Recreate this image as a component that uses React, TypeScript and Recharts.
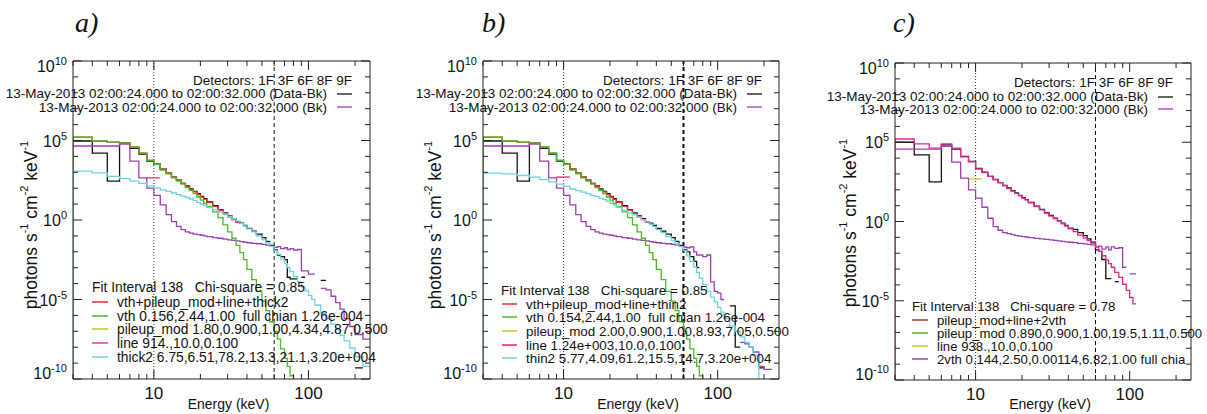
import React from "react";
import { ComposedChart, Line, XAxis, YAxis, ReferenceLine } from "recharts";

const FONT = '"Liberation Sans", Arial, Helvetica, sans-serif';

// energy bin edges (keV), shared by every spectrum
const EDGES = [3, 4, 5, 6, 7, 8, 9, 10, 11, 12, 13, 14, 15, 16, 17, 18, 19, 20, 21, 22, 24, 26, 28, 30, 32, 34, 36, 38, 40, 43, 46, 50, 53, 56, 60, 63, 66, 70, 73, 76, 80, 85, 90, 95, 100, 105, 110, 120, 130, 140, 150, 160, 170, 185, 200, 225, 250];

const X_TICKS = [3, 4, 5, 6, 7, 8, 9, 10, 20, 30, 40, 50, 60, 70, 80, 90, 100, 200];
const X_LABELED = [10, 100];
const Y_TICKS = [1e-10, 1e-9, 1e-8, 1e-7, 1e-6, 1e-5, 1e-4, 1e-3, 1e-2, 1e-1, 1, 1e1, 1e2, 1e3, 1e4, 1e5, 1e6, 1e7, 1e8, 1e9, 1e10];
const E_DOTTED = 10;
const E_DASHED = 60;

// photons s-1 cm-2 keV-1 per bin, panel a
const A_DATA_BK = [9.3e4, 1.6e4, 2.8e2, 6.9e4, 3.2e4, 1.4e4, 5e3, 3.2e3, 1.6e3, 8.9e2, 5e2, 3.2e2, 2e2, 1.4e2, 89, 63, 45, 30, 22, 14, 7.9, 4.5, 2.8, 1.8, 1.2, 0.79, 0.63, 0.45, 0.3, 0.2, 0.13, 7.9e-2, 4.5e-2, 2.5e-2, 1.3e-2, 6.3e-3, 5e-3, 3.2e-3, 2.5e-4, 2e-4, 2e-4, null, 2.5e-4, null, null, null, null, 1.6e-4, null, null, null, null, null, null, 5e-10];
const A_BK = [4.5e4, 4.5e4, 4.5e4, 6e4, 5e3, 4.5e2, 1e2, 35, 8.9, 2.2, 0.79, 0.4, 0.25, 0.18, 0.15, 0.13, 0.12, 0.11, 0.1, 8.9e-2, 7.9e-2, 7.1e-2, 6.3e-2, 5.6e-2, 5.2e-2, 4.8e-2, 4.4e-2, 4e-2, 3.7e-2, 3.4e-2, 3.2e-2, 2.9e-2, 2.6e-2, 2.2e-2, 1.9e-2, 2.1e-2, 1.6e-2, 1.8e-2, 1.4e-2, 1.6e-2, 1.3e-2, 1.4e-2, 6.3e-4, 6.3e-4, 4e-4, 4e-4, null, 5e-5, 4e-5, 1.6e-5, 6.3e-6, 2.5e-6, 6.3e-7, 2e-7, 6.3e-8, 3.2e-8];
const A_TOTAL = [1.6e5, 9.3e4, 7.9e4, 6.9e4, 4e4, 1.6e4, 5.6e3, 3.5e3, 1.6e3, 8.9e2, 5e2, 3.2e2, 2e2, 1.3e2, 83, 58, 40, 28, 20, 13, 7.1, 4.2, 2.6, 1.6, 1.05, 0.71];
const A_VTH = [1.6e5, 9.3e4, 7.9e4, 6.9e4, 4e4, 1.6e4, 5.6e3, 3.2e3, 1.4e3, 7.9e2, 4.5e2, 2.8e2, 1.8e2, 1.1e2, 71, 45, 28, 18, 11, 6.8, 3.2, 1.4, 0.5, 0.18, 7.1e-2, 2.5e-2, 8.9e-3, 3.2e-3, 7.9e-4, 1.8e-4, 3.2e-5, 7.9e-6, 2e-6, 4e-7, 1e-7, 3.2e-8, 7.9e-9, 2e-9, 6.3e-10, 1.6e-10, 2.5e-11];
const A_LINE = [null, null, null, null, null, null, 4.5e2, 4.5e2];
const A_THICK2 = [1.2e3, 9.1e2, 5.6e2, 4e2, 2.8e2, 2e2, 1.4e2, 1e2, 79, 63, 50, 40, 32, 26, 21, 17, 13, 10, 8.3, 6, 4.5, 3.3, 2.3, 1.7, 1.2, 0.85, 0.6, 0.43, 0.28, 0.18, 0.1, 5.9e-2, 3.8e-2, 2.2e-2, 1.2e-2, 6.8e-3, 3.5e-3, 1.8e-3, 1e-3, 5.6e-4, 2.8e-4, 1.3e-4, 6.3e-5, 3.5e-5, 1.8e-5, 1e-5, 4.5e-6, 1.4e-6, 6.3e-7, 2.8e-7, 1.3e-7, 5.6e-8, 2.5e-8, 8.9e-9, 2.5e-9, 6.3e-10];

// panel b
const B_DATA_BK = [9.3e4, 1.6e4, 2.8e2, 6.9e4, 3.2e4, 1.4e4, 5e3, 3.2e3, 1.6e3, 8.9e2, 5e2, 3.2e2, 2e2, 1.4e2, 89, 63, 45, 30, 22, 14, 7.9, 4.5, 2.8, 1.8, 1.2, 0.79, 0.63, 0.45, 0.3, 0.2, 0.13, 7.9e-2, 4.5e-2, 2.5e-2, 1.3e-2, 1e-2, 5e-3, 2.5e-3, 1e-3, null, null, null, null, null, null, null, null, 4e-6, 1e-8, null, null, null, null, 5e-10];
const B_BK = [4.5e4, 4.5e4, 4.5e4, 6e4, 5e3, 4.5e2, 1e2, 35, 8.9, 2.2, 0.79, 0.4, 0.25, 0.18, 0.15, 0.13, 0.12, 0.11, 0.1, 8.9e-2, 7.9e-2, 7.1e-2, 6.3e-2, 5.6e-2, 5.2e-2, 4.8e-2, 4.4e-2, 4e-2, 3.7e-2, 3.4e-2, 3.2e-2, 2.9e-2, 2.6e-2, 2.2e-2, 2e-2, 1.8e-2, 2e-2, 1e-2, 6.3e-3, 6.3e-3, 5e-3, 6.3e-3, 1.3e-4, 3.2e-5, 2.5e-5, 1e-5, null, null, null, 2e-8, 1.6e-8, 1e-8, 5e-9, 6.3e-10, 4e-10];
const B_TOTAL = [1.6e5, 9.3e4, 7.9e4, 6.9e4, 4e4, 1.6e4, 5.6e3, 3.5e3, 1.6e3, 8.9e2, 5e2, 3.2e2, 2e2, 1.3e2, 83, 58, 40, 28, 20, 13, 7.1, 4.2, 2.6, 1.6, 1.05, 0.71];
const B_VTH = [1.6e5, 9.3e4, 7.9e4, 6.9e4, 4e4, 1.6e4, 5.6e3, 3.2e3, 1.4e3, 7.9e2, 4.5e2, 2.8e2, 1.8e2, 1.1e2, 71, 45, 28, 18, 11, 6.8, 3.2, 1.4, 0.5, 0.18, 7.1e-2, 2.5e-2, 8.9e-3, 3.2e-3, 7.9e-4, 1.8e-4, 3.2e-5, 7.9e-6, 2e-6, 4e-7, 1e-7, 3.2e-8, 7.9e-9, 2e-9, 6.3e-10, 1.6e-10, 2.5e-11];
const B_LINE = [null, null, null, null, null, null, 5e2, 5e2];
const B_THIN2 = [8.9e2, 7.9e2, 6.3e2, 5e2, 3.5e2, 2.5e2, 1.8e2, 1.3e2, 89, 71, 56, 45, 35, 30, 23, 19, 15, 11, 8.9, 6.3, 4, 2.8, 2.1, 1.5, 1.07, 0.76, 0.54, 0.38, 0.25, 0.16, 8.9e-2, 5.2e-2, 3.3e-2, 2.1e-2, 1.2e-2, 5.6e-3, 2.5e-3, 1.1e-3, 5e-4, 2.2e-4, 8.9e-5, 3.2e-5, 1.4e-5, 7.1e-6, 3.2e-6, 1.6e-6, 6.3e-7, 2.2e-7, 1e-7, 4.5e-8, 2e-8, 1e-8, 3.2e-9, 1e-11];

// panel c
const C_DATA_BK = [1e5, 1.6e4, 3.2e2, 6.8e4, 3.7e4, 1.3e4, 6.3e3, 2.2e3, 1.3e3, 7.1e2, 4.5e2, 2.8e2, 1.9e2, 1.3e2, 89, 63, 45, 32, 24, 16, 9.3, 5.8, 3.6, 2.4, 1.6, 1.1, 0.78, 0.56, 0.38, 0.32, 0.2, 0.13, 7.9e-2, 5e-2, 1.6e-2, 1.3e-2, 4e-3, 2.5e-4, 2.5e-4, null, 1.6e-4];
const C_BK = [3.7e4, 3.7e4, 3.7e4, 5.6e4, 5.6e3, 5.5e2, 1e2, 30, 7.9, 1.6, 0.47, 0.28, 0.2, 0.17, 0.15, 0.13, 0.12, 0.11, 0.105, 9.5e-2, 8.7e-2, 7.9e-2, 7.4e-2, 6.9e-2, 6.5e-2, 6e-2, 5.6e-2, 5.2e-2, 4.9e-2, 4.6e-2, 4.2e-2, 3.9e-2, 3.6e-2, 3.4e-2, 2.5e-2, 2.8e-2, 1.8e-2, 2.5e-2, 1.6e-2, 2.5e-2, 2e-2, 2.2e-2, 1.3e-3, null, 5e-4, 5e-4];
const C_2VTH = [1.6e5, 7.8e4, 4.3e4, 7.8e4, 4.3e4, 1.2e4, 5.8e3, 2.1e3, 1.2e3, 7.1e2, 4.3e2, 2.8e2, 1.8e2, 1.2e2, 83, 59, 42, 30, 23, 15, 8.7, 5.4, 3.4, 2.2, 1.5, 1.05, 0.72, 0.52, 0.35, 0.23, 0.14, 8.9e-2, 6.3e-2, 4.3e-2, 2.5e-2, 1.3e-2, 6.9e-3, 3.7e-3, 2.2e-3, 1.3e-3, 6.2e-4, 3e-4, 1.1e-4, 4.5e-5, 1.6e-5, 6.3e-6];
const C_LINE = [null, null, null, null, null, null, 4.8e2, 4.8e2];

const DETECTORS = "Detectors: 1F 3F 6F 8F 9F";
const TIME_DATA = "13-May-2013 02:00:24.000 to 02:00:32.000 (Data-Bk)";
const TIME_BK = "13-May-2013 02:00:24.000 to 02:00:32.000 (Bk)";

const A_FIT = "Fit Interval 138   Chi-square = 0.85";
const A_COMPONENTS = [
  "vth+pileup_mod+line+thick2",
  "vth 0.156,2.44,1.00  full chian 1.26e-004",
  "pileup_mod 1.80,0.900,1.00,4.34,4.87,0.500",
  "line 914.,10.0,0.100",
  "thick2 6.75,6.51,78.2,13.3,21.1,3.20e+004",
];
const B_FIT = "Fit Interval 138   Chi-square = 0.85";
const B_COMPONENTS = [
  "vth+pileup_mod+line+thin2",
  "vth 0.154,2.44,1.00  full chian 1.26e-004",
  "pileup_mod 2.00,0.900,1.00,8.93,7.05,0.500",
  "line 1.24e+003,10.0,0.100",
  "thin2 5.77,4.09,61.2,15.5,14.7,3.20e+004",
];
const C_FIT = "Fit Interval 138   Chi-square = 0.78";
const C_COMPONENTS = [
  "pileup_mod+line+2vth",
  "pileup_mod 0.890,0.900,1.00,19.5,1.11,0.500",
  "line 938.,10.0,0.100",
  "2vth 0.144,2.50,0.00114,6.82,1.00 full chia",
];

const BLACK = "#111111";
const PURPLE = "#9c3fb2";
const RED = "#ee2b2b";
const GREEN = "#4cb82a";
const YELLOW = "#c8c81e";
const MAGENTA = "#e8349a";
const CRIMSON = "#e2206e";
const CYAN = "#6fd3dc";
const PINK = "#e6288c";
const DARKRED = "#a33a3a";
const VIOLET = "#a83cb4";

type Val = number | null;
type Trace = { values: Val[]; color: string; fromFloor?: boolean };

// turn per-bin values into a stepped outline (nulls break the line)
function steps(values: Val[], fromFloor = false) {
  const pts: { e: number; v: Val }[] = [];
  if (fromFloor) pts.push({ e: EDGES[0], v: 1e-12 });
  values.forEach((v, i) => {
    if (v == null) {
      pts.push({ e: EDGES[i], v: null });
      return;
    }
    pts.push({ e: EDGES[i], v }, { e: EDGES[i + 1], v });
  });
  return pts;
}

const logExp = (v: number) => Math.round(Math.log10(v));

function BottomTick({ x, y, payload }: any) {
  const major = X_LABELED.includes(payload.value);
  return (
    <g>
      <line x1={x} x2={x} y1={y} y2={y - (major ? 9 : 5)} stroke="#222" />
      {major && (
        <text x={x} y={y + 20} textAnchor="middle" fontSize={17} fontFamily={FONT} fill="#111">
          {payload.value}
        </text>
      )}
    </g>
  );
}

function TopTick({ x, y, payload }: any) {
  const major = X_LABELED.includes(payload.value);
  return <line x1={x} x2={x} y1={y} y2={y + (major ? 9 : 5)} stroke="#222" />;
}

function LeftTick({ x, y, payload }: any) {
  const ex = logExp(payload.value);
  const major = ex % 5 === 0;
  const dy = ex === 10 ? 5 : ex === -10 ? -6 : 0;
  return (
    <g>
      <line x1={x} x2={x + (major ? 9 : 5)} y1={y} y2={y} stroke="#222" />
      {major && (
        <text x={x - 6} y={y + 6 + dy} textAnchor="end" fontSize={16} fontFamily={FONT} fill="#111">
          10<tspan dy={-7} fontSize={11}>{ex}</tspan>
        </text>
      )}
    </g>
  );
}

function RightTick({ x, y, payload }: any) {
  const major = logExp(payload.value) % 5 === 0;
  return <line x1={x} x2={x - (major ? 9 : 5)} y1={y} y2={y} stroke="#222" />;
}

type Layout = {
  left: number;
  width: number;
  plotLeft: number;
  plotRight: number;
  plotTop: number;
  plotBottom: number;
  dashW: number;
  fs: number;
  title: [number, number];
  yLabel: [number, number];
  detEnd: number;
  detY: number;
  timeEnd: number;
  timeY: [number, number];
  fitX: number;
  fitY: number;
  segX: [number, number];
  itemX: number;
  itemY: number[];
};

function Panel({
  L,
  label,
  traces,
  fit,
  components,
  colors,
}: {
  L: Layout;
  label: string;
  traces: Trace[];
  fit: string;
  components: string[];
  colors: string[];
}) {
  const xAxisH = 414 - L.plotBottom;
  const txt = { fontFamily: FONT, fill: "#111", fontSize: 13.5, whiteSpace: "pre" as const };
  const leg = { ...txt, fontSize: L.fs };
  return (
    <div style={{ position: "absolute", left: L.left, top: 0, width: L.width, height: 414 }}>
      <ComposedChart
        width={L.width}
        height={414}
        margin={{ top: L.plotTop - 1, right: L.width - L.plotRight - 1, bottom: 0, left: L.plotLeft - 60 }}
      >
        <XAxis
          dataKey="e"
          type="number"
          scale="log"
          domain={[3, 250]}
          allowDataOverflow
          ticks={X_TICKS}
          interval={0}
          tick={BottomTick}
          tickLine={false}
          tickSize={0}
          tickMargin={0}
          height={xAxisH}
          axisLine={{ stroke: "#222" }}
        />
        <XAxis
          xAxisId="top"
          orientation="top"
          dataKey="e"
          type="number"
          scale="log"
          domain={[3, 250]}
          allowDataOverflow
          ticks={X_TICKS}
          interval={0}
          tick={TopTick}
          tickLine={false}
          tickSize={0}
          tickMargin={0}
          height={1}
          axisLine={{ stroke: "#222" }}
        />
        <YAxis
          type="number"
          scale="log"
          domain={[1e-10, 1e10]}
          allowDataOverflow
          ticks={Y_TICKS}
          interval={0}
          tick={LeftTick}
          tickLine={false}
          tickSize={0}
          tickMargin={0}
          width={60}
          axisLine={{ stroke: "#222" }}
        />
        <YAxis
          yAxisId="right"
          orientation="right"
          type="number"
          scale="log"
          domain={[1e-10, 1e10]}
          allowDataOverflow
          ticks={Y_TICKS}
          interval={0}
          tick={RightTick}
          tickLine={false}
          tickSize={0}
          tickMargin={0}
          width={1}
          axisLine={{ stroke: "#222" }}
        />
        <ReferenceLine x={E_DOTTED} stroke="#333" strokeDasharray="1 2" />
        <ReferenceLine x={E_DASHED} stroke="#111" strokeDasharray="4 3" strokeWidth={L.dashW} />
        {traces.map((t, i) => (
          <Line
            key={i}
            data={steps(t.values, t.fromFloor)}
            dataKey="v"
            type="linear"
            stroke={t.color}
            strokeWidth={1.3}
            dot={false}
            activeDot={false}
            connectNulls={false}
            isAnimationActive={false}
          />
        ))}
      </ComposedChart>
      <svg
        width={L.width}
        height={414}
        style={{ position: "absolute", left: 0, top: 0, pointerEvents: "none", zIndex: 2 }}
      >
        <text
          x={L.title[0]}
          y={L.title[1]}
          fontFamily='"Liberation Serif", "Times New Roman", serif'
          fontStyle="italic"
          fontSize={28}
          fill="#111"
        >
          {label}
        </text>
        <text
          transform={`translate(${L.yLabel[0]},${L.yLabel[1]}) rotate(-90)`}
          textAnchor="middle"
          dominantBaseline="central"
          style={{ ...txt, fontSize: 17.5 }}
        >
          photons s<tspan dy={-7} fontSize={11}>-1</tspan>
          <tspan dy={7}> cm</tspan>
          <tspan dy={-7} fontSize={11}>-2</tspan>
          <tspan dy={7}> keV</tspan>
          <tspan dy={-7} fontSize={11}>-1</tspan>
        </text>
        <text
          x={(L.plotLeft + L.plotRight) / 2 + 7}
          y={409}
          textAnchor="middle"
          style={{ ...txt, fontSize: 14 }}
        >
          Energy (keV)
        </text>
        <text x={L.detEnd} y={L.detY} textAnchor="end" style={txt}>
          {DETECTORS}
        </text>
        <text x={L.timeEnd} y={L.timeY[0]} textAnchor="end" style={txt}>
          {TIME_DATA}
        </text>
        <text x={L.timeEnd} y={L.timeY[1]} textAnchor="end" style={txt}>
          {TIME_BK}
        </text>
        <line x1={L.timeEnd + 10} x2={L.detEnd} y1={L.timeY[0] - 4} y2={L.timeY[0] - 4} stroke={BLACK} strokeWidth={1.3} />
        <line x1={L.timeEnd + 10} x2={L.detEnd} y1={L.timeY[1] - 5} y2={L.timeY[1] - 5} stroke={PURPLE} strokeWidth={1.3} />
        <text x={L.fitX} y={L.fitY} style={leg}>
          {fit}
        </text>
        {components.map((c, i) => (
          <g key={i}>
            <line x1={L.segX[0]} x2={L.segX[1]} y1={L.itemY[i]} y2={L.itemY[i]} stroke={colors[i]} strokeWidth={1.5} />
            <text x={L.itemX} y={L.itemY[i] + 5} style={leg}>
              {c}
            </text>
          </g>
        ))}
      </svg>
    </div>
  );
}

const LAYOUT_A: Layout = {
  left: 0, width: 400, plotLeft: 73, plotRight: 370, plotTop: 61, plotBottom: 379, dashW: 1, fs: 13.8,
  title: [75, 32], yLabel: [31, 225], detEnd: 352, detY: 85, timeEnd: 327, timeY: [98, 112],
  fitX: 92, fitY: 292, segX: [92, 108], itemX: 117, itemY: [302, 316, 329, 343, 357],
};
const LAYOUT_B: Layout = {
  left: 400, width: 400, plotLeft: 83, plotRight: 379, plotTop: 61, plotBottom: 379, dashW: 2, fs: 13.4,
  title: [82, 32], yLabel: [35, 225], detEnd: 362, detY: 85, timeEnd: 337, timeY: [98, 112],
  fitX: 101, fitY: 295, segX: [102, 117], itemX: 126, itemY: [304, 317, 331, 345, 358],
};
const LAYOUT_C: Layout = {
  left: 800, width: 407, plotLeft: 95, plotRight: 391, plotTop: 63, plotBottom: 380, dashW: 1, fs: 13.2,
  title: [93, 32], yLabel: [50, 223], detEnd: 373, detY: 87, timeEnd: 348, timeY: [101, 114],
  fitX: 112, fitY: 311, segX: [112, 128], itemX: 137, itemY: [320, 333, 346, 359],
};

export default function App() {
  return (
    <div
      style={{
        position: "absolute",
        left: 0,
        top: 0,
        width: 1207,
        height: 414,
        background: "#fff",
        overflow: "hidden",
      }}
    >
      <Panel
        L={LAYOUT_A}
        label="a)"
        fit={A_FIT}
        components={A_COMPONENTS}
        colors={[RED, GREEN, YELLOW, MAGENTA, CYAN]}
        traces={[
          { values: A_DATA_BK, color: BLACK },
          { values: A_BK, color: PURPLE },
          { values: A_TOTAL, color: RED, fromFloor: true },
          { values: A_VTH, color: GREEN, fromFloor: true },
          { values: A_LINE, color: MAGENTA },
          { values: A_THICK2, color: CYAN, fromFloor: true },
        ]}
      />
      <Panel
        L={LAYOUT_B}
        label="b)"
        fit={B_FIT}
        components={B_COMPONENTS}
        colors={[RED, GREEN, YELLOW, CRIMSON, CYAN]}
        traces={[
          { values: B_DATA_BK, color: BLACK },
          { values: B_BK, color: PURPLE },
          { values: B_TOTAL, color: RED, fromFloor: true },
          { values: B_VTH, color: GREEN, fromFloor: true },
          { values: B_LINE, color: CRIMSON },
          { values: B_THIN2, color: CYAN, fromFloor: true },
        ]}
      />
      <Panel
        L={LAYOUT_C}
        label="c)"
        fit={C_FIT}
        components={C_COMPONENTS}
        colors={[DARKRED, GREEN, YELLOW, VIOLET]}
        traces={[
          { values: C_DATA_BK, color: BLACK },
          { values: C_BK, color: PURPLE },
          { values: C_LINE, color: YELLOW },
          { values: C_2VTH, color: PINK, fromFloor: true },
        ]}
      />
    </div>
  );
}
